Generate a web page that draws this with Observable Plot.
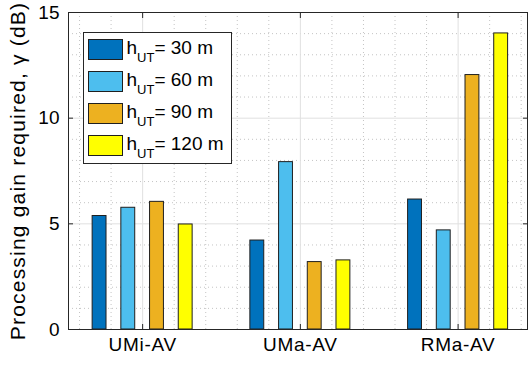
<!DOCTYPE html>
<html>
<head>
<meta charset="utf-8">
<script src="https://cdn.jsdelivr.net/npm/d3@7"></script>
<script src="https://cdn.jsdelivr.net/npm/@observablehq/plot@0.6"></script>
<style>
  body { margin: 0; background: #fff; }
  #chart { position: relative; width: 528px; height: 368px; font-family: "Liberation Sans", Arial, Helvetica, sans-serif; }
  #chart svg { display: block; }
  #chart g[aria-label="text"] text { letter-spacing: 1.2px; }
  #chart g[aria-label="x-axis tick label"] text { letter-spacing: 0.7px; }
  .legend { position: absolute; left: 82.5px; top: 31.5px; width: 149.5px; height: 132px; box-sizing: border-box;
            border: 1px solid #262626; background: #fff; }
  .legend .sw { position: absolute; left: 4px; width: 35px; height: 21px; box-sizing: border-box; border: 1px solid #1f1f1f; }
  .legend .lab { position: absolute; left: 43px; font-size: 19px; line-height: 19px; color: #000; white-space: nowrap; }
  .legend .lab sub { font-size: 13px; vertical-align: -8px; line-height: 0; }
</style>
</head>
<body>
<div id="chart"></div>
<script>
// Scenarios on the x axis and UAV heights in the legend
const scenarios = ["UMi-AV", "UMa-AV", "RMa-AV"];
const heights = [30, 60, 90, 120];
const colors = ["#0072BD", "#4DBEEE", "#EDB120", "#FFFF00"];

// Processing gain required (dB), one value per scenario
const gain30 = [5.37, 4.21, 6.15];
const gain60 = [5.76, 7.92, 4.69];
const gain90 = [6.04, 3.19, 12.04];
const gain120 = [4.97, 3.27, 14.01];

const yTicks = [0, 5, 10, 15];
const yLabel = "Processing gain required, γ (dB)";

const series = [gain30, gain60, gain90, gain120];
const rows = [];
series.forEach((vals, k) => vals.forEach((v, g) => rows.push({g: g + 1, k, h: heights[k], value: v})));

// grouped bar geometry in x units (one unit per scenario)
const step = 0.182, half = 0.044;
const xDomain = [0.53, 3.44];

const minorX = d3.range(3, 18).filter(v => v % 5 !== 0).map(v => v / 5);
const minorY = d3.range(1, 15).filter(v => v % 5 !== 0);
const axisColor = "#262626";

const plot = Plot.plot({
  width: 528,
  height: 368,
  marginLeft: 68,
  marginRight: 1,
  marginTop: 12,
  marginBottom: 39,
  style: {fontFamily: "'Liberation Sans', Arial, Helvetica, sans-serif", background: "#fff", overflow: "visible"},
  x: {type: "linear", domain: xDomain},
  y: {domain: [0, 15]},
  color: {domain: heights, range: colors},
  marks: [
    Plot.ruleY(minorY, {stroke: "#c4c4c4", strokeDasharray: "1,3"}),
    Plot.ruleX(minorX, {stroke: "#c4c4c4", strokeDasharray: "1,3"}),
    Plot.ruleY([5, 10], {stroke: "#e0e0e0"}),
    Plot.ruleX([1, 2, 3], {stroke: "#e0e0e0"}),
    Plot.rectY(rows, {
      x1: d => d.g + (d.k - 1.5) * step - half,
      x2: d => d.g + (d.k - 1.5) * step + half,
      y1: 0,
      y2: "value",
      fill: "h",
      stroke: "#1f1f1f",
      strokeWidth: 1
    }),
    Plot.frame({stroke: axisColor}),
    Plot.axisY(yTicks, {anchor: "left", tickSize: -5, tickPadding: 14, fontSize: 19, label: null, stroke: axisColor, color: "#000"}),
    Plot.axisY([5, 10], {anchor: "right", tickSize: -5, tickFormat: () => "", label: null, stroke: axisColor}),
    Plot.axisX([1, 2, 3], {anchor: "bottom", tickSize: -5, tickPadding: 13, tickFormat: d => scenarios[d - 1], fontSize: 19, label: null, stroke: axisColor}),
    Plot.axisX([1, 2, 3], {anchor: "top", tickSize: -5, tickFormat: () => "", label: null, stroke: axisColor}),
    Plot.text([yLabel], {text: d => d, frameAnchor: "left", textAnchor: "middle", rotate: -90, dx: -50, dy: 0, fontSize: 21, fill: "#000"})
  ]
});

const chart = document.getElementById("chart");
chart.appendChild(plot);

// legend box in the upper-left corner of the plot area
const legend = document.createElement("div");
legend.className = "legend";
heights.forEach((h, k) => {
  const sw = document.createElement("div");
  sw.className = "sw";
  sw.style.top = (6.5 + 32 * k) + "px";
  sw.style.background = colors[k];
  legend.appendChild(sw);
  const lab = document.createElement("div");
  lab.className = "lab";
  lab.style.top = (5 + 32 * k) + "px";
  lab.innerHTML = `h<sub>UT</sub>= ${h} m`;
  legend.appendChild(lab);
});
chart.appendChild(legend);
</script>
</body>
</html>
